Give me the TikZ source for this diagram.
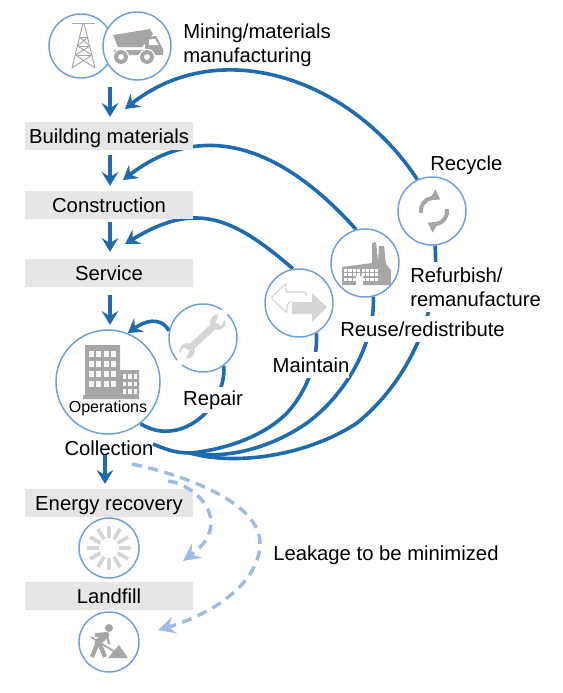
\documentclass[tikz,border=0pt]{standalone}
\usepackage{fontspec}
\setmainfont{Liberation Sans}
\usetikzlibrary{arrows.meta,calc}
\definecolor{flow}{HTML}{1F6BB0}
\definecolor{leak}{HTML}{9DBBE3}
\definecolor{ring}{HTML}{6F9FD8}
\definecolor{band}{HTML}{E6E6E6}
\definecolor{icon}{HTML}{A6A6A6}
\definecolor{iconl}{HTML}{D6D6D6}
\pgfdeclarelayer{bg}
\pgfdeclarelayer{mid}
\pgfsetlayers{bg,mid,main}
\tikzset{
  bandbox/.style={fill=band,minimum width=126pt,minimum height=21pt,inner sep=0pt,font=\fontsize{15.2}{18}\selectfont,text height=11pt,text depth=0.2pt},
  lab/.style={font=\fontsize{15.2}{18}\selectfont,inner sep=0pt,fill=white,align=left},
  labn/.style={font=\fontsize{15.2}{18}\selectfont,inner sep=0pt},
  disc/.style={circle,draw=ring,line width=1.1pt,fill=white,inner sep=0pt},
  flowline/.style={draw=flow,line width=2.7pt},
  tipped/.style={flowline,-{Stealth[length=10.5pt,width=12.5pt,inset=3.8pt]}},
  leakline/.style={draw=leak,line width=2.6pt,dash pattern=on 7.5pt off 5pt,-{Stealth[length=13pt,width=13pt,inset=5pt]}},
}
\begin{document}
\begin{tikzpicture}[x=0.75pt,y=-0.75pt]
\useasboundingbox (0,0) rectangle (562,693);
% free ends
\coordinate (tipB) at (125,109);
\coordinate (tipC) at (123,180);
\coordinate (tipS) at (125,244);
\coordinate (colE) at (153,444);
\coordinate (merge) at (190,453);
\coordinate (leakS) at (132,464);
\coordinate (leakI) at (168,481);
\coordinate (tipE) at (183,561);
\coordinate (tipL) at (158,630);
\coordinate (a1s) at (110,87); \coordinate (a1e) at (110,117);
\coordinate (a2s) at (110,155); \coordinate (a2e) at (110,186);
\coordinate (a3s) at (110,222); \coordinate (a3e) at (110,252);
\coordinate (a4s) at (110,295); \coordinate (a4e) at (110,325);
\coordinate (a5s) at (105,455); \coordinate (a5e) at (105,484);
% discs
\node[disc,minimum size=48pt] (tower) at (81,46) {};
\node[disc,minimum size=51pt] (truck) at (137,46) {};
\node[disc,minimum size=78pt] (ops) at (108,382) {};
\node[disc,minimum size=51pt] (repair) at (203,338) {};
\node[disc,minimum size=51pt] (maintain) at (299,303) {};
\node[disc,minimum size=51pt] (factory) at (365,263) {};
\node[disc,minimum size=51pt] (recycle) at (432,211) {};
\node[disc,minimum size=45pt] (energy) at (109,548) {};
\node[disc,minimum size=45pt] (digger) at (109,642) {};
% bands and labels
\begin{pgfonlayer}{mid}
\node[bandbox] (bm) at (109,136) {Building materials};
\node[bandbox] (con) at (109,205) {Construction};
\node[bandbox] (ser) at (109,273) {Service};
\node[bandbox] (er) at (109,503) {Energy recovery};
\node[bandbox] (lf) at (109,596) {Landfill};
\node[lab,anchor=west] (lrec) at (430,165) {Recycle};
\node[lab,anchor=west,minimum height=38pt] (lref) at (410,287) {Refurbish/\\remanufacture};
\node[lab,anchor=west,minimum height=19pt] (lreu) at (340,329) {Reuse/redistribute};
\node[lab,minimum height=20pt] (lmai) at (311,365) {Maintain};
\node[lab,minimum height=20pt] (lrep) at (213,400) {Repair};
\node[labn,text height=11pt,text depth=3.2pt] (lcol) at (109,450) {Collection};
\node[labn,anchor=west,align=left] (lmin) at (183,45) {Mining/materials\\manufacturing};
\node[labn,anchor=west,text height=11pt,text depth=3.2pt] (lleak) at (273,555) {Leakage to be minimized};
\end{pgfonlayer}
% arcs
\begin{pgfonlayer}{bg}
\draw[tipped] (recycle.115) .. controls (351,78) and (219,34) .. (tipB);
\draw[tipped] (factory.105) .. controls (286,151) and (206,116) .. (tipC);
\draw[tipped] (maintain.100) .. controls (232,216) and (195,201) .. (tipS);
\draw[flowline] (recycle.275) .. controls (440,310) and (410,380) .. (357,423) .. controls (307,456) and (235,466) .. (merge);
\draw[flowline] (factory.284) .. controls (375,345) and (345,395) .. (307,423) .. controls (275,445) and (232,460) .. (merge);
\draw[flowline] (maintain.300) .. controls (318,365) and (305,393) .. (287,413) .. controls (262,438) and (222,450) .. (merge);
\draw[flowline] (merge) .. controls (175,453) and (165,449) .. (colE);
\draw[tipped] (repair.168) .. controls (160,315) and (143,322) .. (ops.68);
\draw[flowline] (repair.307) .. controls (226,410) and (178,448) .. (ops.-52);
\end{pgfonlayer}
% leakage
\draw[leakline] (leakI) .. controls (195,484) and (236,522) .. (tipE);
\draw[leakline] (leakS) .. controls (175,473) and (262,500) .. (260,545) .. controls (258,585) and (210,615) .. (tipL);
\node[font=\fontsize{12}{14}\selectfont,inner sep=0pt] (lops) at (108,408) {Operations};
% down arrows
\draw[tipped] (a1s) -- (a1e);
\draw[tipped] (a2s) -- (a2e);
\draw[tipped] (a3s) -- (a3e);
\draw[tipped] (a4s) -- (a4e);
\draw[tipped] (a5s) -- (a5e);
% tower
\begin{scope}[draw=icon,line width=0.7pt]
\draw (72,23) -- (95,23);
\draw (83,23) -- (72,68) (84,23) -- (95,68);
\draw (79.5,37) -- (88,37) (77.5,46) -- (90,46) (75.5,55) -- (92,55);
\draw (79.5,37) -- (90,46) (88,37) -- (77.5,46) (77.5,46) -- (92,55) (90,46) -- (75.5,55) (75.5,55) -- (95,68) (92,55) -- (72,68);
\end{scope}
% truck
\fill[icon] (113,35) -- (150,29) -- (153,34) -- (142,47) -- (118,47) -- cycle;
\fill[icon] (145,37) -- (156,36) -- (163,49) -- (163,55) -- (114,55) -- (114,50) -- (145,50) -- cycle;
\fill[white] (149,39.5) -- (155,39) -- (158.5,45) -- (149,45) -- cycle;
\foreach \x in {121,147}{\fill[white] (\x,57) circle[radius=6.2pt]; \fill[icon] (\x,57) circle[radius=5.2pt]; \fill[white] (\x,57) circle[radius=2.2pt];}
% operations building
\fill[icon] (85,345) rectangle (120,396) (120,370) rectangle (139,396) (83,395) rectangle (139,399);
\foreach \i in {0,1,2,3}\foreach \j in {0,1,2,3}{\fill[white!90!icon] ({88.5+7.5*\i},{351+10*\j}) rectangle ++(5,6);}
\foreach \i in {0,1,2}\foreach \j in {0,1,2}{\fill[white!90!icon] ({122.5+5.5*\i},{374+7.5*\j}) rectangle ++(3.5,4.5);}
% wrench
\begin{scope}[shift={(202.5,336.5)},rotate=43]
\fill[iconl] (-17,-3.4) rectangle (17,3.4);
\fill[iconl] (-21,0) circle[radius=5.8pt];
\fill[iconl] (21,0) circle[radius=5.8pt];
\begin{scope}[shift={(-25,0)},rotate=20]
\fill[white] (-12,-3.4) rectangle (5,3.4);
\end{scope}
\begin{scope}[shift={(25,0)},rotate=20]
\fill[white] (-5,-3.4) rectangle (12,3.4);
\end{scope}
\end{scope}
% maintain arrows
\draw[iconl,line width=1pt,line join=round,rounded corners=1pt] (306,296) -- (306,292) -- (286,292) -- (286,283) -- (271,298) -- (287,313) -- (287,305) -- (291,301);
\fill[iconl] (292,302) -- (312,302) -- (312,293) -- (327,307) -- (312,322) -- (312,314) -- (292,314) -- cycle;
% factory
\fill[icon] (342,285) -- (342,267) -- (372,263) -- (372,243) -- (376,242) -- (378,262) -- (379,246) -- (384,246) -- (386,264) -- (391,270) -- (391,285) -- cycle;
\foreach \i in {0,...,7}\foreach \j in {0,1,2}{\fill[white] ({344+4.4*\i},{268.5+4.6*\j}) rectangle ++(3.2,3.2);}
\fill[white] (356,276) rectangle (363,285);
% recycle
\begin{scope}[draw=icon,line width=3pt,-{Stealth[length=7pt,width=9pt,inset=0pt]}]
\draw (421,213) arc[start angle=170,end angle=300,radius=13];
\draw (447,209) arc[start angle=-10,end angle=120,radius=13];
\end{scope}
% sun
\foreach \a in {0,30,...,330}{\draw[iconl,line width=3pt] ($(109,548)+(\a:7.5pt)$) -- ($(109,548)+(\a:16.5pt)$);}
% digger
\fill[icon] (109,628) circle[radius=3pt];
\fill[icon] (108,658) -- (119,645) -- (128,658) -- cycle;
\draw[icon,line width=5pt,line cap=round] (106,635) -- (98,642);
\draw[icon,line width=3pt] (107,634) -- (95,635);
\draw[icon,line width=3.2pt,line join=round] (98,642) -- (92,657);
\draw[icon,line width=3.2pt,line join=round] (99,642) -- (105,657);
\draw[icon,line width=1.6pt] (107,635) -- (109,644);
\draw[icon,line width=1.3pt] (91,637) -- (115,652);
\end{tikzpicture}
\end{document}
